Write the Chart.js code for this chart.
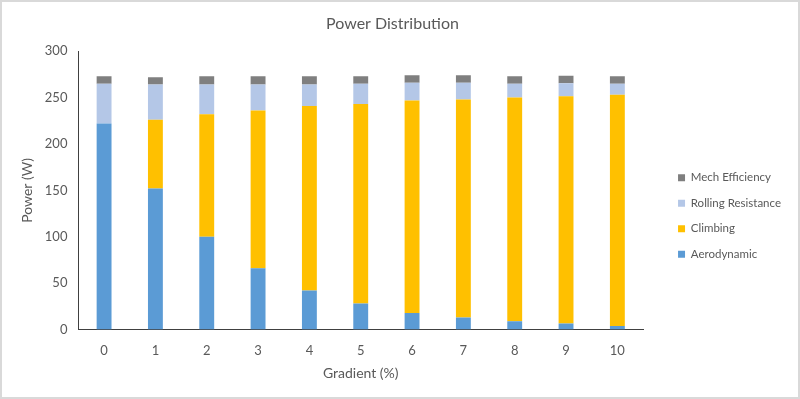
<!DOCTYPE html>
<html>
<head>
<meta charset="utf-8">
<script src="https://cdn.jsdelivr.net/npm/chart.js@4"></script>
<style>
  html, body { margin: 0; padding: 0; background: #fff; }
  #wrap { width: 800px; height: 399px; box-sizing: border-box; border: 2px solid #d9d9d9; position: relative; }
</style>
</head>
<body>
<div id="wrap"><canvas id="powerChart"></canvas></div>
<script>
// gradient (%) categories and power split (W)
const gradients = ["0", "1", "2", "3", "4", "5", "6", "7", "8", "9", "10"];
const aerodynamic = [222, 152, 100, 66, 42, 28, 18, 13, 9, 6.5, 4];
const climbing = [0, 74, 132, 170, 199, 215, 229, 235, 241, 245, 249];
const rollingResistance = [43, 38, 32, 28, 23, 22, 19, 18, 15, 14, 12];
const mechEfficiency = [8, 8, 9, 9, 9, 8, 8, 8, 8, 8, 8];

const grey = "#595959";
Chart.defaults.font.family = "Lato, 'Open Sans', sans-serif";
Chart.defaults.color = grey;

// nudge the legend a bit right and down, like the excel one
const legendNudge = {
  id: "legendNudge",
  afterLayout(chart) {
    const lg = chart.legend;
    lg.left += 21; lg.right += 21;
    lg.top += 22; lg.bottom += 22;
  }
};

new Chart(document.getElementById("powerChart"), {
  type: "bar",
  data: {
    labels: gradients,
    datasets: [
      { label: "Aerodynamic", data: aerodynamic, backgroundColor: "#5B9BD5" },
      { label: "Climbing", data: climbing, backgroundColor: "#FFC000" },
      { label: "Rolling Resistance", data: rollingResistance, backgroundColor: "#B4C7E7" },
      { label: "Mech Efficiency", data: mechEfficiency, backgroundColor: "#7F7F7F" }
    ]
  },
  plugins: [legendNudge],
  options: {
    responsive: true,
    maintainAspectRatio: false,
    animation: false,
    datasets: { bar: { categoryPercentage: 1, barPercentage: 0.29 } },
    layout: { padding: { left: 13, right: 28, top: 0, bottom: 11 } },
    plugins: {
      title: {
        display: true,
        text: "Power Distribution",
        font: { size: 16, weight: "normal" },
        color: grey,
        padding: { top: 12, bottom: 18 }
      },
      legend: {
        position: "right",
        reverse: true,
        labels: { boxWidth: 7, boxHeight: 7, padding: 14, font: { size: 11.5 }, color: grey }
      },
      tooltip: { enabled: false }
    },
    scales: {
      x: {
        stacked: true,
        grid: { display: false, drawTicks: false },
        border: { color: "#404040", width: 1 },
        ticks: { padding: 13, font: { size: 13 } },
        title: { display: true, text: "Gradient (%)", font: { size: 14 }, padding: { top: -6 } }
      },
      y: {
        stacked: true,
        min: 0,
        max: 300,
        grid: { display: false, drawTicks: false },
        border: { color: "#404040", width: 1 },
        ticks: { stepSize: 50, padding: 11, font: { size: 13 } },
        title: { display: true, text: "Power (W)", font: { size: 14 }, padding: { bottom: -2 } }
      }
    }
  }
});
</script>
</body>
</html>
